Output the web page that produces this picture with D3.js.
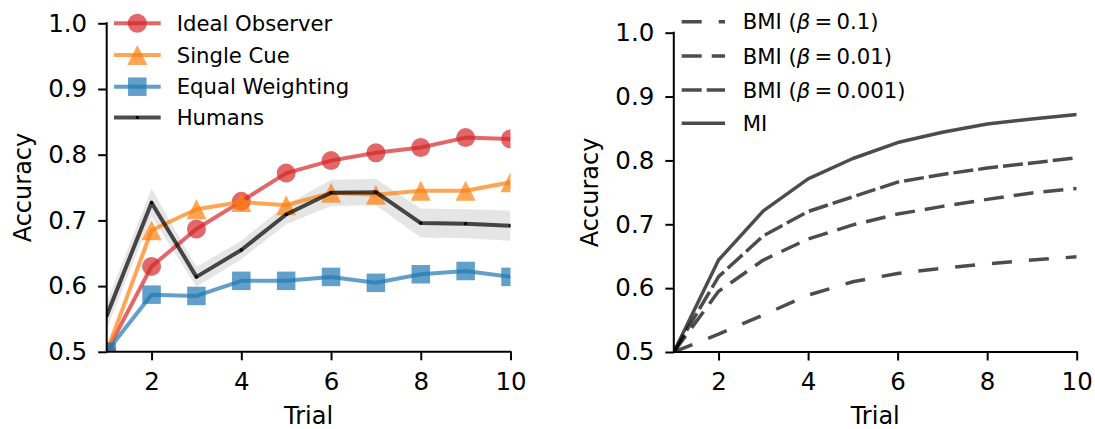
<!DOCTYPE html>
<html>
<head>
<meta charset="utf-8">
<script src="https://cdn.jsdelivr.net/npm/d3@7"></script>
<style>
  html, body { margin: 0; padding: 0; background: #fff; }
  svg { display: block; font-family: "DejaVu Sans", sans-serif; }
</style>
</head>
<body>
<svg id="chart" width="1095" height="429"></svg>
<script>
// ---------------- data ----------------
const trials = [1, 2, 3, 4, 5, 6, 7, 8, 9, 10];

const idealObserver  = [0.500, 0.630, 0.687, 0.729, 0.772, 0.791, 0.803, 0.811, 0.826, 0.824];
const singleCue      = [0.500, 0.685, 0.717, 0.728, 0.723, 0.742, 0.739, 0.745, 0.745, 0.758];
const equalWeighting = [0.500, 0.587, 0.585, 0.608, 0.608, 0.614, 0.605, 0.618, 0.623, 0.614];
const humans         = [0.555, 0.727, 0.614, 0.655, 0.709, 0.742, 0.743, 0.696, 0.695, 0.692];
const humansSE       = [0.020, 0.021, 0.015, 0.014, 0.015, 0.020, 0.020, 0.022, 0.022, 0.023];

const bmi01   = [0.500, 0.528, 0.558, 0.589, 0.610, 0.623, 0.631, 0.638, 0.644, 0.649];
const bmi001  = [0.500, 0.595, 0.644, 0.677, 0.699, 0.716, 0.728, 0.739, 0.749, 0.756];
const bmi0001 = [0.500, 0.618, 0.682, 0.720, 0.743, 0.766, 0.778, 0.788, 0.796, 0.804];
const mi      = [0.500, 0.644, 0.721, 0.771, 0.803, 0.828, 0.844, 0.857, 0.865, 0.872];

const xTicks = [2, 4, 6, 8, 10];
const yTicks = [0.5, 0.6, 0.7, 0.8, 0.9, 1.0];
const leftLegend = ["Ideal Observer", "Single Cue", "Equal Weighting", "Humans"];
const rightLegend = ["0.1", "0.01", "0.001"];

// ---------------- setup ----------------
const svg = d3.select("#chart");
const FONT = 24, TICK_FONT = 24.5, LEG_FONT = 21.2;
const RED = "#d62728", ORANGE = "#ff7f0e", BLUE = "#1f77b4";

function makeAxes(cfg) {
  const x = d3.scaleLinear().domain([1, 10]).range([cfg.x0, cfg.x1]);
  const y = d3.scaleLinear().domain([0.5, 1.0]).range([cfg.y0, cfg.y1]);
  const g = svg.append("g");
  const clipId = "clip" + cfg.id;
  svg.append("clipPath").attr("id", clipId).append("rect")
    .attr("x", cfg.x0).attr("y", cfg.y1).attr("width", cfg.x1 - cfg.x0).attr("height", cfg.y0 - cfg.y1);
  const data = g.append("g").attr("clip-path", `url(#${clipId})`);

  const xa = g.append("g").attr("transform", `translate(0,${cfg.y0})`)
    .call(d3.axisBottom(x).tickValues(xTicks).tickFormat(d3.format("d")).tickSize(8.5).tickPadding(10));
  const ya = g.append("g").attr("transform", `translate(${cfg.x0},0)`)
    .call(d3.axisLeft(y).tickValues(yTicks).tickFormat(d3.format(".1f")).tickSize(8.5).tickPadding(11));
  [xa, ya].forEach(a => {
    a.select(".domain").remove();
    a.selectAll(".tick line").attr("stroke", "#000").attr("stroke-width", 2);
    a.selectAll(".tick text").attr("font-size", TICK_FONT).attr("font-family", "DejaVu Sans").attr("fill", "#000");
  });
  // spines
  g.append("line").attr("x1", cfg.x0).attr("x2", cfg.x1 + 1).attr("y1", cfg.y0).attr("y2", cfg.y0)
    .attr("stroke", "#000").attr("stroke-width", 2);
  g.append("line").attr("x1", cfg.x0).attr("x2", cfg.x0).attr("y1", cfg.y1 - 1).attr("y2", cfg.y0 + 1)
    .attr("stroke", "#000").attr("stroke-width", 2);
  xa.selectAll(".tick text").attr("dy", null).attr("y", 38);

  g.append("text").attr("x", (cfg.x0 + cfg.x1) / 2).attr("y", cfg.y0 + 72)
    .attr("text-anchor", "middle").attr("font-size", FONT).text("Trial");
  g.append("text")
    .attr("transform", `translate(${cfg.x0 - 76},${(cfg.y0 + cfg.y1) / 2}) rotate(-90)`)
    .attr("text-anchor", "middle").attr("font-size", FONT).text("Accuracy");
  return { x, y, g, data };
}

// ---------------- left panel ----------------
const L = makeAxes({ id: "L", x0: 106.7, x1: 510.5, y0: 351.8, y1: 23.3 });
const lineL = vals => d3.line().x((d, i) => L.x(trials[i])).y(d => L.y(d))(vals);

L.data.append("path")
  .attr("d", d3.area().x((d, i) => L.x(trials[i]))
    .y0((d, i) => L.y(d - humansSE[i])).y1((d, i) => L.y(d + humansSE[i]))(humans))
  .attr("fill", "#e5e5e5");

const triPath = s => `M0,${-s / 2}L${s / 2},${s / 2}L${-s / 2},${s / 2}Z`;
const series = [
  { vals: idealObserver, color: RED, marker: "circle" },
  { vals: singleCue, color: ORANGE, marker: "triangle" },
  { vals: equalWeighting, color: BLUE, marker: "square" }
];
function drawMarker(sel, type, color, cx, cy) {
  if (type === "circle") {
    sel.append("circle").attr("cx", cx).attr("cy", cy).attr("r", 9.5)
      .attr("fill", color).attr("fill-opacity", 0.7);
  } else if (type === "triangle") {
    sel.append("path").attr("d", triPath(20)).attr("transform", `translate(${cx},${cy})`)
      .attr("fill", color).attr("fill-opacity", 0.7);
  } else if (type === "square") {
    sel.append("rect").attr("x", cx - 9.25).attr("y", cy - 9.25).attr("width", 18.5).attr("height", 18.5)
      .attr("fill", color).attr("fill-opacity", 0.7);
  }
}
series.forEach(s => {
  const grp = L.data.append("g");
  grp.append("path").attr("d", lineL(s.vals)).attr("fill", "none")
    .attr("stroke", s.color).attr("stroke-opacity", 0.7).attr("stroke-width", 4)
    .attr("stroke-linejoin", "round");
  s.vals.forEach((v, i) => drawMarker(grp, s.marker, s.color, L.x(trials[i]), L.y(v)));
});
L.data.append("path").attr("d", lineL(humans)).attr("fill", "none")
  .attr("stroke", "#000").attr("stroke-opacity", 0.7).attr("stroke-width", 4).attr("stroke-linejoin", "round");
humans.forEach((v, i) => {
  L.data.append("rect").attr("x", L.x(trials[i]) - 1.5).attr("y", L.y(v) - 1.5)
    .attr("width", 3).attr("height", 3).attr("fill", "#000");
});

// left legend
const legL = svg.append("g");
const legRowsL = [23.3, 55, 86.7, 117.5];
const legMarkers = ["circle", "triangle", "square", null];
const legColors = [RED, ORANGE, BLUE, "#000"];
leftLegend.forEach((name, i) => {
  const yy = legRowsL[i];
  legL.append("line").attr("x1", 114).attr("x2", 160.7).attr("y1", yy).attr("y2", yy)
    .attr("stroke", legColors[i]).attr("stroke-opacity", 0.7).attr("stroke-width", 4);
  if (legMarkers[i]) drawMarker(legL, legMarkers[i], legColors[i], 137.3, yy);
  else legL.append("rect").attr("x", 135.8).attr("y", yy - 1.5).attr("width", 3).attr("height", 3).attr("fill", "#000");
  legL.append("text").attr("x", 176.7).attr("y", yy).attr("dy", "0.36em")
    .attr("font-size", LEG_FONT).text(name);
});

// ---------------- right panel ----------------
const R = makeAxes({ id: "R", x0: 673.8, x1: 1076.7, y0: 352.0, y1: 32.7 });
const lineR = vals => d3.line().x((d, i) => R.x(trials[i])).y(d => R.y(d))(vals);
const rightSeries = [
  { vals: bmi01, dash: "20,17" },
  { vals: bmi001, dash: "20,10" },
  { vals: bmi0001, dash: "20,5" },
  { vals: mi, dash: null }
];
rightSeries.forEach(s => {
  const p = R.data.append("path").attr("d", lineR(s.vals)).attr("fill", "none")
    .attr("stroke", "#000").attr("stroke-opacity", 0.7).attr("stroke-width", 3.5)
    .attr("stroke-linejoin", "round");
  if (s.dash) p.attr("stroke-dasharray", s.dash);
});

// right legend
const legR = svg.append("g");
const legRowsR = [21.7, 56, 90, 123.3];
rightSeries.forEach((s, i) => {
  const yy = legRowsR[i];
  const ln = legR.append("line").attr("x1", 681.7).attr("x2", 725).attr("y1", yy).attr("y2", yy)
    .attr("stroke", "#000").attr("stroke-opacity", 0.7).attr("stroke-width", 3.5);
  if (s.dash) ln.attr("stroke-dasharray", s.dash);
  const t = legR.append("text").attr("x", 742.7).attr("y", yy).attr("dy", "0.36em").attr("font-size", LEG_FONT);
  if (i < 3) {
    t.append("tspan").text("BMI (");
    t.append("tspan").attr("font-style", "italic").text("β");
    t.append("tspan").text("\u2009=\u2009" + rightLegend[i] + ")");
  } else {
    t.text("MI");
  }
});
</script>
</body>
</html>
